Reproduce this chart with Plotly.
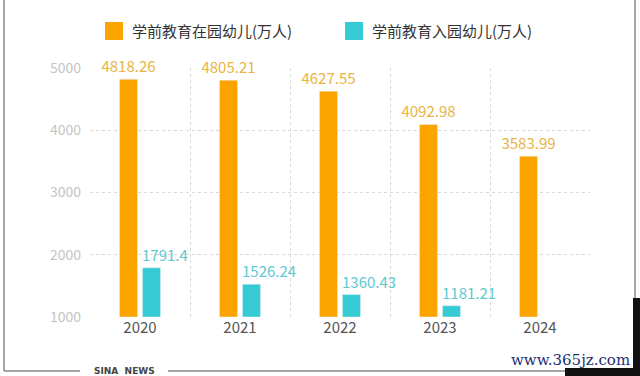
import plotly.graph_objects as go

years = ["2020", "2021", "2022", "2023", "2024"]
in_school = [4818.26, 4805.21, 4627.55, 4092.98, 3583.99]
enrolled = [1791.4, 1526.24, 1360.43, 1181.21, None]
series_names = ["学前教育在园幼儿(万人)", "学前教育入园幼儿(万人)"]
y_ticks = [1000, 2000, 3000, 4000, 5000]

orange = "#FBA400"
teal = "#36CAD4"
orange_lbl = "#E9B443"
teal_lbl = "#5CC9D1"
FONT = "Noto Sans CJK SC, Noto Sans, sans-serif"

def fmt(v):
    return "" if v is None else f"{v:g}"

fig = go.Figure()
fig.add_trace(go.Bar(
    x=years, y=[v - 1000 for v in in_school], base=1000,
    name=series_names[0], marker_color=orange,
    text=[fmt(v) for v in in_school], textposition="outside",
    textfont=dict(color=orange_lbl, size=15, family=FONT),
    constraintext="none", cliponaxis=False, showlegend=False,
))
fig.add_trace(go.Bar(
    x=years, y=[None if v is None else v - 1000 for v in enrolled], base=1000,
    name=series_names[1], marker_color=teal,
    showlegend=False,
))

fig.update_layout(
    width=640, height=376,
    margin=dict(l=90, r=50, t=68, b=59),
    paper_bgcolor="white", plot_bgcolor="white",
    barmode="group", bargap=0.54, bargroupgap=0.217,
    font=dict(family=FONT),
)
fig.update_xaxes(
    type="category", range=[-0.5, len(years) - 0.5], tickson="boundaries", showgrid=True,
    gridcolor="#d8d8d8", griddash="3px,3px", gridwidth=1,
    showline=False, zeroline=False, ticks="",
    tickfont=dict(size=15, color="#555555", family=FONT),
    ticklabelstandoff=0,
)
fig.update_yaxes(
    range=[1000, 5000], tickvals=y_ticks, ticktext=[str(t) for t in y_ticks],
    showgrid=True, gridcolor="#d8d8d8", griddash="3px,3px", gridwidth=1,
    zeroline=False, showline=False, ticks="",
    tickfont=dict(size=14, color="#c4c4c4", family=FONT),
    ticklabelstandoff=8,
)

def px(x):
    return (x - 90) / 500

def py(y):
    return (376 - 59 - y) / 249

shapes = []
annotations = []

# Teal value labels (left-aligned over the teal bars, as in the reference)
for i, v in enumerate(enrolled):
    if v is None:
        continue
    annotations.append(dict(x=i, y=v, xref="x", yref="y",
                            xanchor="left", yanchor="bottom", xshift=0, yshift=1,
                            showarrow=False, text=fmt(v),
                            font=dict(color=teal_lbl, size=15, family=FONT)))

# Legend drawn manually
legend_items = [(105, orange, series_names[0]), (345, teal, series_names[1])]
for x0, col, name in legend_items:
    shapes.append(dict(type="rect", xref="paper", yref="paper",
                       x0=px(x0), x1=px(x0 + 18), y0=py(40), y1=py(22),
                       fillcolor=col, line=dict(width=0)))
    annotations.append(dict(xref="paper", yref="paper",
                            x=px(x0 + 25), y=py(31),
                            xanchor="left", yanchor="middle", showarrow=False,
                            text=name, font=dict(size=15, color="#333333", family=FONT)))

# Frame lines
line_col = "#8a8a8a"
shapes += [
    dict(type="line", xref="paper", yref="paper", x0=px(4), x1=px(4), y0=py(0), y1=py(371),
         line=dict(color=line_col, width=1.5)),
    dict(type="line", xref="paper", yref="paper", x0=px(635), x1=px(635), y0=py(0), y1=py(298),
         line=dict(color=line_col, width=1.5)),
    dict(type="line", xref="paper", yref="paper", x0=px(4), x1=px(80), y0=py(371), y1=py(371),
         line=dict(color=line_col, width=1.5)),
    dict(type="line", xref="paper", yref="paper", x0=px(168), x1=px(566), y0=py(371), y1=py(371),
         line=dict(color=line_col, width=1.5)),
    dict(type="rect", xref="paper", yref="paper", x0=px(633), x1=px(641), y0=py(298), y1=py(377),
         fillcolor="#111111", line=dict(width=0)),
    dict(type="rect", xref="paper", yref="paper", x0=px(565), x1=px(641), y0=py(368), y1=py(377),
         fillcolor="#111111", line=dict(width=0)),
]
annotations += [
    dict(xref="paper", yref="paper", x=px(124), y=py(371), xanchor="center", yanchor="middle",
         showarrow=False, text="<b>SINA  NEWS</b>",
         font=dict(size=9, color="#444444", family="DejaVu Sans")),
    dict(xref="paper", yref="paper", x=px(632), y=py(360), xanchor="right", yanchor="middle",
         showarrow=False, text="www.365jz.com",
         font=dict(size=15, color="#1c2f73", family="DejaVu Serif")),
]
fig.update_layout(shapes=shapes, annotations=annotations)

fig.write_html("out.html", config={"displayModeBar": False},
               post_script="document.body.style.margin='0';document.body.style.overflow='hidden';")
